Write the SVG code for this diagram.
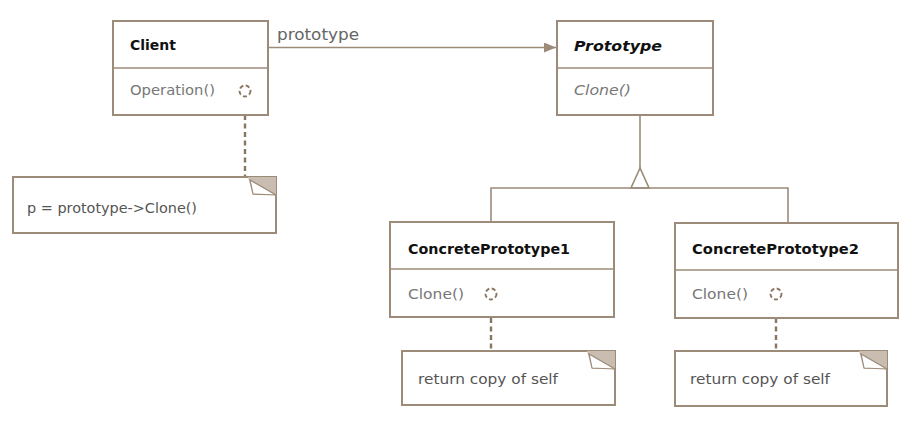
<svg xmlns="http://www.w3.org/2000/svg" width="906" height="427" viewBox="0 0 906 427">
<defs>
<style>
.box{fill:#fff;stroke:#9c8b79;stroke-width:2}
.ln{fill:none;stroke:#9c8b79;stroke-width:1.6}
.dash{fill:none;stroke:#8a7560;stroke-width:2.4;stroke-dasharray:5,3.5}
.dc{fill:none;stroke:#8a7560;stroke-width:1.9;stroke-dasharray:4,2.5}
.fold{fill:#c9bdb1;stroke:none}
.foldw{fill:#fff;stroke:#9c8b79;stroke-width:1.2}
.t{font-family:"DejaVu Sans",sans-serif;font-size:14px;font-weight:bold;fill:#111}
.op{font-family:"DejaVu Sans",sans-serif;font-size:13.5px;fill:#777}
.nt{font-family:"DejaVu Sans",sans-serif;font-size:13.5px;fill:#555}
</style>
<marker id="arr" viewBox="0 0 12 10" refX="12" refY="5" markerWidth="12" markerHeight="10" markerUnits="userSpaceOnUse" orient="auto">
<path d="M0,0 L12,5 L0,10 Z" fill="#9c8b79"/>
</marker>
</defs>
<g id="connectors">
<line class="ln" x1="268" y1="47.5" x2="556" y2="47.5" marker-end="url(#arr)"/>
<text x="277" y="40" font-family="DejaVu Sans,sans-serif" font-size="15" fill="#666" textLength="82" lengthAdjust="spacingAndGlyphs">prototype</text>
<line class="ln" x1="640" y1="115" x2="640" y2="168"/>
<path class="ln" d="M640,168 L631,188 L649,188 Z" fill="#fff"/>
<polyline class="ln" points="491,222 491,188 788,188 788,222"/>
<line class="dash" x1="245" y1="98" x2="245" y2="177"/>
<line class="dash" x1="491" y1="301" x2="491" y2="351"/>
<line class="dash" x1="776" y1="301" x2="776" y2="351"/>
</g>
<g id="client">
<rect class="box" x="113" y="21" width="155" height="94"/>
<line class="ln" x1="113" y1="68" x2="268" y2="68"/>
<text class="t" x="130" y="50" textLength="46" lengthAdjust="spacingAndGlyphs">Client</text>
<text class="op" x="130" y="95" textLength="85" lengthAdjust="spacingAndGlyphs">Operation()</text>
<circle class="dc" cx="245" cy="91" r="5.5"/>
</g>
<g id="prototype">
<rect class="box" x="557" y="21" width="156" height="94"/>
<line class="ln" x1="557" y1="68" x2="713" y2="68"/>
<text class="t" x="574" y="51" font-style="italic" textLength="88" lengthAdjust="spacingAndGlyphs">Prototype</text>
<text class="op" x="574" y="95" font-style="italic" textLength="57" lengthAdjust="spacingAndGlyphs">Clone()</text>
</g>
<g id="concrete1">
<rect class="box" x="390" y="222" width="224" height="95"/>
<line class="ln" x1="390" y1="269" x2="614" y2="269"/>
<text class="t" x="408" y="254" textLength="162" lengthAdjust="spacingAndGlyphs">ConcretePrototype1</text>
<text class="op" x="408" y="299" textLength="56" lengthAdjust="spacingAndGlyphs">Clone()</text>
<circle class="dc" cx="491" cy="294" r="5.5"/>
</g>
<g id="concrete2">
<rect class="box" x="675" y="223" width="223" height="95"/>
<line class="ln" x1="675" y1="270" x2="898" y2="270"/>
<text class="t" x="692" y="254" textLength="167" lengthAdjust="spacingAndGlyphs">ConcretePrototype2</text>
<text class="op" x="692" y="299" textLength="56" lengthAdjust="spacingAndGlyphs">Clone()</text>
<circle class="dc" cx="776" cy="294" r="5.5"/>
</g>
<g id="note-client">
<rect class="box" x="13" y="177" width="263" height="56"/>
<polygon class="fold" points="248,177 276,177 276,195 253,195"/>
<polygon class="foldw" points="250,180 253,194 276,195"/>
<text class="nt" x="27" y="213" textLength="170" lengthAdjust="spacingAndGlyphs">p = prototype-&gt;Clone()</text>
</g>
<g id="note-cp1">
<rect class="box" x="402" y="351" width="213" height="54"/>
<polygon class="fold" points="587,351 615,351 615,369 592,369"/>
<polygon class="foldw" points="589,354 592,368 615,369"/>
<text class="nt" x="418" y="384" textLength="140" lengthAdjust="spacingAndGlyphs">return copy of self</text>
</g>
<g id="note-cp2">
<rect class="box" x="675" y="351" width="212" height="55"/>
<polygon class="fold" points="859,351 887,351 887,369 864,369"/>
<polygon class="foldw" points="861,354 864,368 887,369"/>
<text class="nt" x="690" y="384" textLength="140" lengthAdjust="spacingAndGlyphs">return copy of self</text>
</g>
</svg>
